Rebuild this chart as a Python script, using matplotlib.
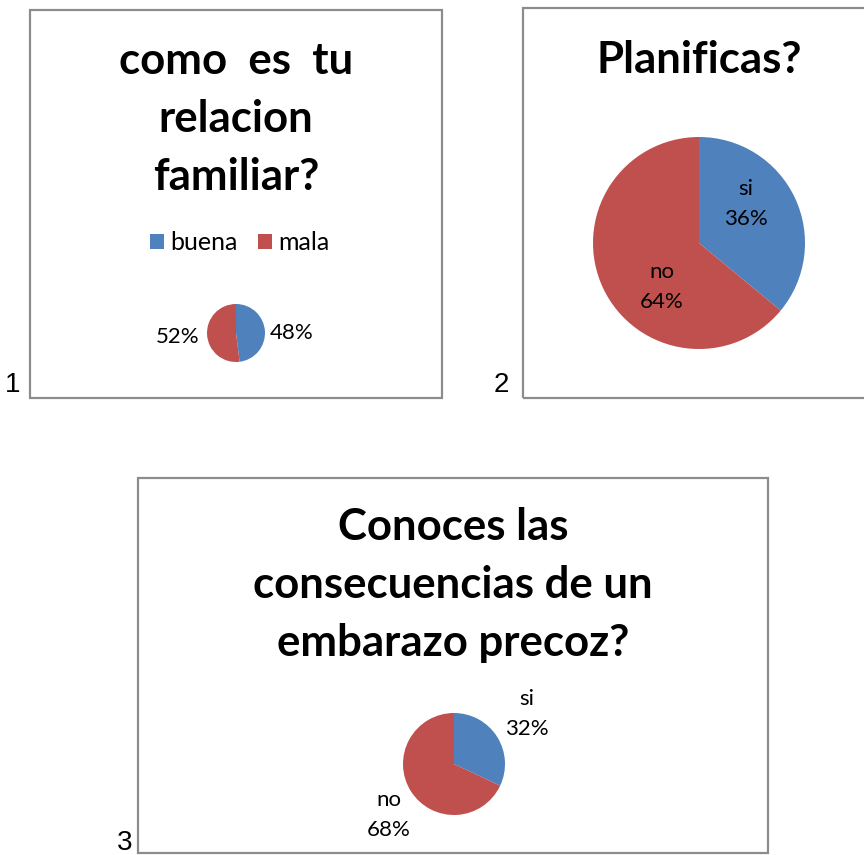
import matplotlib.pyplot as plt
from matplotlib.patches import Rectangle

# survey answers
cats1 = ["buena", "mala"]
vals1 = [48, 52]
title1 = "como  es  tu\nrelacion\nfamiliar?"

cats2 = ["si", "no"]
vals2 = [36, 64]
title2 = "Planificas?"

cats3 = ["si", "no"]
vals3 = [32, 68]
title3 = "Conoces las\nconsecuencias de un\nembarazo precoz?"

colors = ["#4F81BD", "#C0504D"]

W, H = 864, 855
fig = plt.figure(figsize=(W / 100, H / 100), dpi=100)
ax = fig.add_axes([0, 0, 1, 1])


def Y(y):
    # pixel rows counted from the top
    return H - y


def box(x0, y0, x1, y1):
    ax.add_patch(Rectangle((x0, Y(y1)), x1 - x0, y1 - y0, fill=False,
                           edgecolor="#8c8c8c", lw=1.6, zorder=1))


title_font = dict(family="Lato", weight="bold", size=31.5, ha="center",
                  va="center", linespacing=1.55)
label_font = dict(family="Lato", size=16, ha="center", va="center",
                  linespacing=1.65)

# chart 1
box(30, 10, 442, 398)
ax.text(236, Y(119), title1, **title_font)
w1, _ = ax.pie(vals1, colors=colors, startangle=90, counterclock=False,
               center=(236, Y(333)), radius=29, frame=True,
               wedgeprops=dict(linewidth=0))
ax.text(292, Y(333), f"{vals1[0]}%", **label_font)
ax.text(178, Y(337), f"{vals1[1]}%", **label_font)
ax.legend(w1, cats1, ncol=2, frameon=False, loc="center",
          bbox_to_anchor=(240, Y(243)), bbox_transform=ax.transData,
          prop=dict(family="Lato", size=18), handlelength=0.56,
          handleheight=0.56, handletextpad=0.25, columnspacing=0.8)
ax.text(13, Y(385), "1", family="Liberation Sans", size=20,
        ha="center", va="center")

# chart 2
box(523, 8, 875, 398)
ax.text(699, Y(60), title2, **title_font)
ax.pie(vals2, colors=colors, startangle=90, counterclock=False,
       center=(699, Y(243)), radius=106, frame=True,
       wedgeprops=dict(linewidth=0))
ax.text(746, Y(204), f"{cats2[0]}\n{vals2[0]}%", **label_font)
ax.text(662, Y(287), f"{cats2[1]}\n{vals2[1]}%", **label_font)
ax.text(501, Y(385), "2", family="Liberation Sans", size=20,
        ha="center", va="center")

# chart 3
box(138, 478, 768, 853)
ax.text(453, Y(585), title3, **title_font)
ax.pie(vals3, colors=colors, startangle=90, counterclock=False,
       center=(454, Y(764)), radius=51, frame=True,
       wedgeprops=dict(linewidth=0))
ax.text(527, Y(714), f"{cats3[0]}\n{vals3[0]}%", **label_font)
ax.text(389, Y(815), f"{cats3[1]}\n{vals3[1]}%", **label_font)
ax.text(125, Y(843), "3", family="Liberation Sans", size=20,
        ha="center", va="center")

ax.set_xlim(0, W)
ax.set_ylim(0, H)
ax.set_aspect("auto")
ax.axis("off")

fig.savefig("out.png", dpi=100)
